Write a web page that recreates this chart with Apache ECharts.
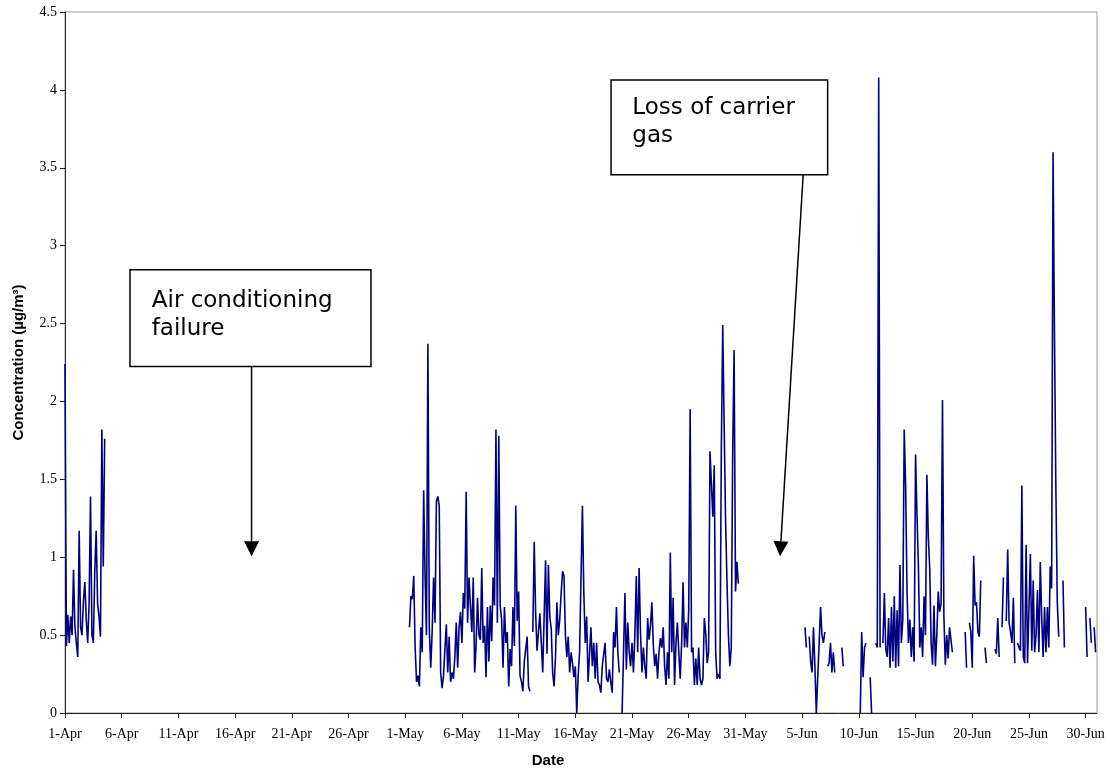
<!DOCTYPE html>
<html>
<head>
<meta charset="utf-8">
<script src="https://cdn.jsdelivr.net/npm/echarts@6/dist/echarts.min.js"></script>
<style>
  html, body { margin: 0; padding: 0; background: #fff; }
  #chart { width: 1110px; height: 773px; }
</style>
</head>
<body>
<div id="chart"></div>
<script>
// Concentration readings (µg/m³), one value every STEP_HOURS hours.
// Day 0 on the x axis is 1-Apr 00:00; null marks a missing reading.
const STEP_HOURS = 3;
const MONTH_NAMES = ['Jan', 'Feb', 'Mar', 'Apr', 'May', 'Jun', 'Jul', 'Aug', 'Sep', 'Oct', 'Nov', 'Dec'];
const AXIS_START = Date.UTC(2000, 3, 1);
const DAY_RANGE = [0, 91];
const DAY_TICK_EVERY = 5;
const CONC_RANGE = [0, 4.5];
const CONC_TICK_EVERY = 0.5;

const aprilStartDay = 0;
const aprilValues = [
  2.24, 0.43, 0.63, 0.45, 0.62, 0.50, 0.92, 0.55, 0.45, 0.36,
  1.17, 0.55, 0.50, 0.72, 0.84, 0.60, 0.45, 0.70, 1.39, 0.50,
  0.45, 0.91, 1.17, 0.70, 0.62, 0.49, 1.82, 0.94, 1.76
];

const mayStartDay = 30.375;
const mayValues = [
  0.55, 0.75, 0.73, 0.88, 0.42, 0.20, 0.24, 0.17, 0.55, 0.39,
  1.43, 0.88, 0.50, 2.37, 0.54, 0.29, 0.52, 0.87, 0.58, 1.36,
  1.39, 1.33, 0.26, 0.16, 0.24, 0.41, 0.57, 0.26, 0.49, 0.20,
  0.26, 0.22, 0.36, 0.58, 0.29, 0.55, 0.65, 0.45, 0.77, 0.67,
  1.42, 0.58, 0.87, 0.69, 0.52, 0.87, 0.26, 0.44, 0.74, 0.50,
  0.47, 0.93, 0.45, 0.56, 0.23, 0.68, 0.33, 0.69, 0.46, 0.87,
  0.69, 1.82, 0.58, 1.78, 0.69, 0.60, 0.29, 0.68, 0.45, 0.52,
  0.17, 0.41, 0.30, 0.68, 0.43, 1.33, 0.59, 0.78, 0.24, 0.20,
  0.14, 0.33, 0.41, 0.49, 0.17, 0.14, null, 0.52, 1.10, 0.64,
  0.40, 0.52, 0.64, 0.45, 0.26, 0.26, 0.98, 0.38, 0.95, 0.62,
  0.54, 0.26, 0.17, 0.36, 0.71, 0.50, 0.60, 0.77, 0.91, 0.88,
  0.50, 0.36, 0.49, 0.26, 0.39, 0.32, 0.23, 0.30, 0.00, 0.24,
  0.39, 0.39, 1.33, 0.77, 0.45, 0.62, 0.20, 0.20, 0.55, 0.30,
  0.45, 0.22, 0.45, 0.20, 0.18, 0.13, 0.30, 0.29, 0.45, 0.22,
  0.20, 0.28, 0.20, 0.13, 0.52, 0.42, 0.68, 0.39, 0.26, null,
  0.00, 0.00, 0.77, 0.28, 0.58, 0.39, 0.30, 0.45, 0.26, 0.50,
  0.88, 0.39, 0.93, 0.51, 0.26, 0.42, 0.30, 0.22, 0.61, 0.47,
  0.56, 0.71, 0.44, 0.30, 0.38, 0.22, 0.39, 0.48, 0.42, 0.55,
  0.30, 0.18, 0.39, 0.22, 1.03, 0.39, 0.74, 0.18, 0.45, 0.58,
  0.39, 0.22, 0.45, 0.84, 0.42, 0.58, 0.42, 0.67, 1.95, 0.39,
  0.42, 0.18, 0.35, 0.18, 0.42, 0.22, 0.18, 0.22, 0.61, 0.51,
  0.32, 0.39, 1.68, 1.68, 1.26, 1.59, 0.39, 0.22, 0.25, 0.22,
  1.70, 2.49, 1.84, 1.23, 0.84, 0.50, 0.30, 0.42, 1.67, 2.33,
  0.78, 0.97, 0.83
];

const juneStartDay = 65.25;
const juneValues = [
  0.55, 0.42, null, 0.49, 0.33, 0.26, 0.55, 0.30, 0.00, 0.23,
  0.45, 0.68, 0.50, 0.45, 0.52, null, 0.30, 0.32, 0.45, 0.26,
  0.39, 0.26, null, null, null, null, 0.42, 0.30, null, null,
  null, null, null, null, null, null, null, null, null, 0.00,
  0.52, 0.23, 0.42, 0.45, null, null, 0.23, 0.00, null, null,
  0.45, 0.42, 4.08, 0.42, null, 0.45, 0.77, 0.41, 0.36, 0.61,
  0.29, 0.68, 0.33, 0.75, 0.29, 0.66, 0.30, 0.95, 0.45, 0.60,
  1.82, 1.46, 0.78, 0.45, 0.60, 0.36, 0.55, 0.33, 1.66, 1.28,
  0.95, 0.42, 0.55, 0.36, 0.75, 0.50, 1.53, 1.13, 0.93, 0.45,
  0.31, 0.69, 0.30, 0.50, 0.78, 0.65, 0.70, 2.01, 0.62, 0.31,
  0.50, 0.35, 0.55, 0.55, 0.39, null, null, null, null, null,
  null, null, null, 0.52, 0.29, null, 0.58, 0.52, 0.29, 1.01,
  0.69, 0.71, 0.52, 0.49, 0.85, null, null, 0.42, 0.32, null,
  null, null, null, null, 0.41, 0.38, 0.61, 0.36, null, 0.55,
  0.87, null, 0.59, 1.05, 0.58, 0.52, 0.45, 0.74, 0.32, null,
  0.45, 0.42, 0.40, 1.46, 0.36, 0.32, 1.08, 0.32, 0.32, 1.02,
  0.40, 0.85, 0.39, 0.50, 0.79, 0.39, 0.97, 0.61, 0.36, 0.68,
  0.39, 0.68, 0.42, 0.94, 0.80, 3.60, 2.44, 1.43, 0.71, 0.49,
  null, null, 0.85, 0.42, null, null, null, null, null, null,
  null, null, null, null, null, null, null, null, 0.68, 0.36,
  null, 0.61, 0.45, null, 0.55, 0.39
];

// Callout boxes: corners, text anchor (left, first baseline) and arrow, all in [day, concentration].
const notes = [
  {
    lines: ['Air conditioning', 'failure'],
    box: [[5.73, 2.846], [26.98, 2.224]],
    text: [7.65, 2.611],
    arrow: [[16.45, 2.224], [16.45, 1.006]]
  },
  {
    lines: ['Loss of carrier', 'gas'],
    box: [[48.15, 4.064], [67.25, 3.455]],
    text: [50.03, 3.851],
    arrow: [[65.09, 3.455], [63.05, 1.006]]
  }
];

function dayLabel(day) {
  const d = new Date(AXIS_START + day * 86400000);
  return d.getUTCDate() + '-' + MONTH_NAMES[d.getUTCMonth()];
}

function segmentPoints(startDay, values) {
  return values.map((v, i) => [startDay + i * STEP_HOURS / 24, v]);
}

const seriesData = []
  .concat(segmentPoints(aprilStartDay, aprilValues), [[aprilStartDay + aprilValues.length * STEP_HOURS / 24, null]])
  .concat(segmentPoints(mayStartDay, mayValues), [[mayStartDay + mayValues.length * STEP_HOURS / 24, null]])
  .concat(segmentPoints(juneStartDay, juneValues));

const chart = echarts.init(document.getElementById('chart'), null, { renderer: 'canvas' });

const serif = '"Liberation Serif", "Times New Roman", serif';
const sans = '"Liberation Sans", Arial, sans-serif';

chart.setOption({
  animation: false,
  backgroundColor: '#fff',
  grid: {
    left: 65, right: 13, top: 12, bottom: 59,
    show: true, borderColor: '#9a9a9a', borderWidth: 1, backgroundColor: 'transparent'
  },
  xAxis: {
    type: 'value',
    min: DAY_RANGE[0], max: DAY_RANGE[1], interval: DAY_TICK_EVERY,
    name: 'Date',
    nameLocation: 'middle',
    nameGap: 40,
    nameTextStyle: { fontFamily: sans, fontWeight: 'bold', fontSize: 15, color: '#000', padding: [0, 66, 0, 0] },
    axisLine: { show: true, onZero: false, lineStyle: { color: '#222', width: 1 } },
    axisTick: { show: true, inside: false, length: 5, lineStyle: { color: '#222' } },
    axisLabel: { show: true, showMaxLabel: false, margin: 14, fontFamily: serif, fontSize: 14, color: '#000', formatter: dayLabel },
    splitLine: { show: false }
  },
  yAxis: {
    type: 'value',
    min: CONC_RANGE[0], max: CONC_RANGE[1], interval: CONC_TICK_EVERY,
    name: 'Concentration (µg/m³)',
    nameLocation: 'middle',
    nameGap: 39,
    nameTextStyle: { fontFamily: sans, fontWeight: 'bold', fontSize: 15, color: '#000' },
    axisLine: { show: true, onZero: false, lineStyle: { color: '#222', width: 1 } },
    axisTick: { show: true, inside: false, length: 5, lineStyle: { color: '#222' } },
    axisLabel: { show: true, margin: 8, fontFamily: serif, fontSize: 14, color: '#000', formatter: v => String(v) },
    splitLine: { show: false }
  },
  series: [{
    type: 'line',
    data: seriesData,
    showSymbol: false,
    connectNulls: false,
    silent: true,
    lineStyle: { color: '#000080', width: 1.6 },
    z: 3
  }]
});

// Callouts with arrows, placed through the chart's own coordinate system.
function toPx(p) { return chart.convertToPixel({ gridIndex: 0 }, p); }

const graphics = [];
notes.forEach(n => {
  const a = toPx(n.box[0]);
  const b = toPx(n.box[1]);
  graphics.push({
    type: 'rect', z: 100,
    shape: { x: a[0], y: a[1], width: b[0] - a[0], height: b[1] - a[1] },
    style: { fill: '#fff', stroke: '#000', lineWidth: 1.5 }
  });
  const t = toPx(n.text);
  n.lines.forEach((line, i) => {
    graphics.push({
      type: 'text', z: 101,
      x: t[0], y: t[1] + i * 28.3 - 17,
      style: { text: line, fontFamily: '"DejaVu Sans", Verdana, sans-serif', fontSize: 23, fill: '#000', verticalAlign: 'top' }
    });
  });
  const s = toPx(n.arrow[0]);
  const e = toPx(n.arrow[1]);
  const dx = e[0] - s[0], dy = e[1] - s[1];
  const len = Math.hypot(dx, dy);
  const ux = dx / len, uy = dy / len;
  const headLen = 15, headHalf = 7.5;
  const bx = e[0] - ux * headLen, by = e[1] - uy * headLen;
  graphics.push({
    type: 'line', z: 100,
    shape: { x1: s[0], y1: s[1], x2: bx, y2: by },
    style: { stroke: '#000', lineWidth: 1.5 }
  });
  graphics.push({
    type: 'polygon', z: 100,
    shape: { points: [[e[0], e[1]], [bx - uy * headHalf, by + ux * headHalf], [bx + uy * headHalf, by - ux * headHalf]] },
    style: { fill: '#000' }
  });
});
chart.setOption({ graphic: graphics });
</script>
</body>
</html>
